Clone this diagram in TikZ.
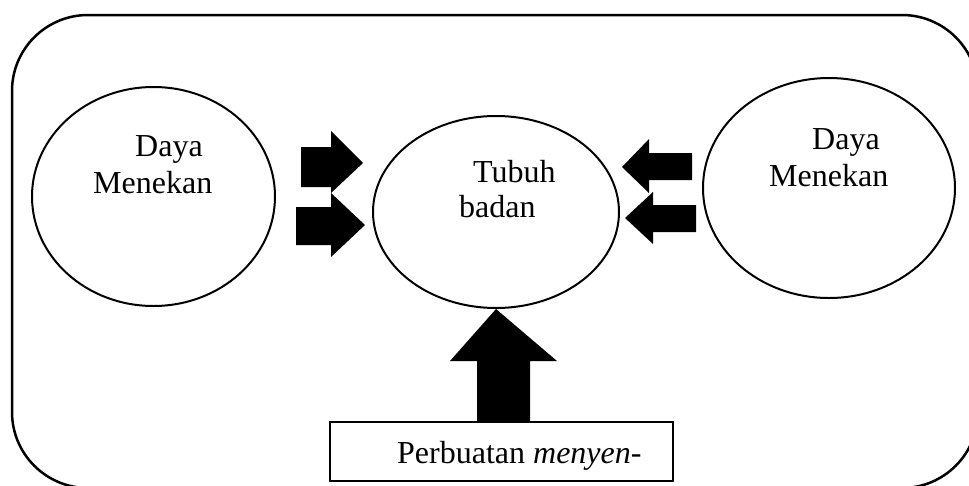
\documentclass[tikz,border=0pt]{standalone}
\usepackage{fontspec}
\setmainfont{Liberation Serif}
\usetikzlibrary{shapes.geometric}
\begin{document}
\begin{tikzpicture}[x=1pt,y=-1pt,
  oval/.style={draw, line width=2pt, ellipse, inner sep=0pt},
  lbl/.style={inner sep=0pt, anchor=base west, font=\fontsize{32}{37}\selectfont},
  blockarrow/.style={fill=black, draw=none}]
\useasboundingbox (0,0) rectangle (969,485);
\clip (0,0) rectangle (969,485);
\draw[line width=2.5pt, rounded corners=76pt] (12,15) rectangle (978,488);

% ellipses
\node[oval, minimum width=243pt, minimum height=219pt] (left) at (153.5,196.5) {};
\node[oval, minimum width=246pt, minimum height=192pt] (body) at (496,212) {};
\node[oval, minimum width=252pt, minimum height=220pt] (right) at (829,188) {};

% labels
\node[lbl] (l1) at (135,156) {Daya};
\node[lbl] (l2) at (93,193) {Menekan};
\node[lbl] (b1) at (473,182) {Tubuh};
\node[lbl] (b2) at (459,217) {badan};
\node[lbl] (r1) at (812,149) {Daya};
\node[lbl] (r2) at (769,186) {Menekan};

% bottom box
\node[draw, line width=2pt, minimum width=343pt, minimum height=59pt, inner sep=0pt] (box) at (501.5,451.5) {};
\node[lbl] (ptext) at (397,463) {Perbuatan \textit{menyen-}};

% block arrows from the left
\fill[blockarrow] (301,147) -- (331,147) -- (331,131) -- (363,163) -- (331,193) -- (331,187) -- (301,187) -- cycle;
\fill[blockarrow] (296,207) -- (331,207) -- (331,193) -- (365,225) -- (331,257) -- (331,245) -- (296,245) -- cycle;

% block arrows from the right
\fill[blockarrow] (692,153) -- (649,153) -- (649,139) -- (622,167) -- (649,193) -- (649,180) -- (692,180) -- cycle;
\fill[blockarrow] (696,205) -- (653,205) -- (653,192) -- (625,218) -- (653,244) -- (653,232) -- (696,232) -- cycle;

% block arrow from box up to body
\fill[blockarrow] (box.north -| 477,0) -- (477,361) -- (450,361) -- (body.south) -- (557,361) -- (530,361) -- (box.north -| 530,0) -- cycle;
\end{tikzpicture}
\end{document}
